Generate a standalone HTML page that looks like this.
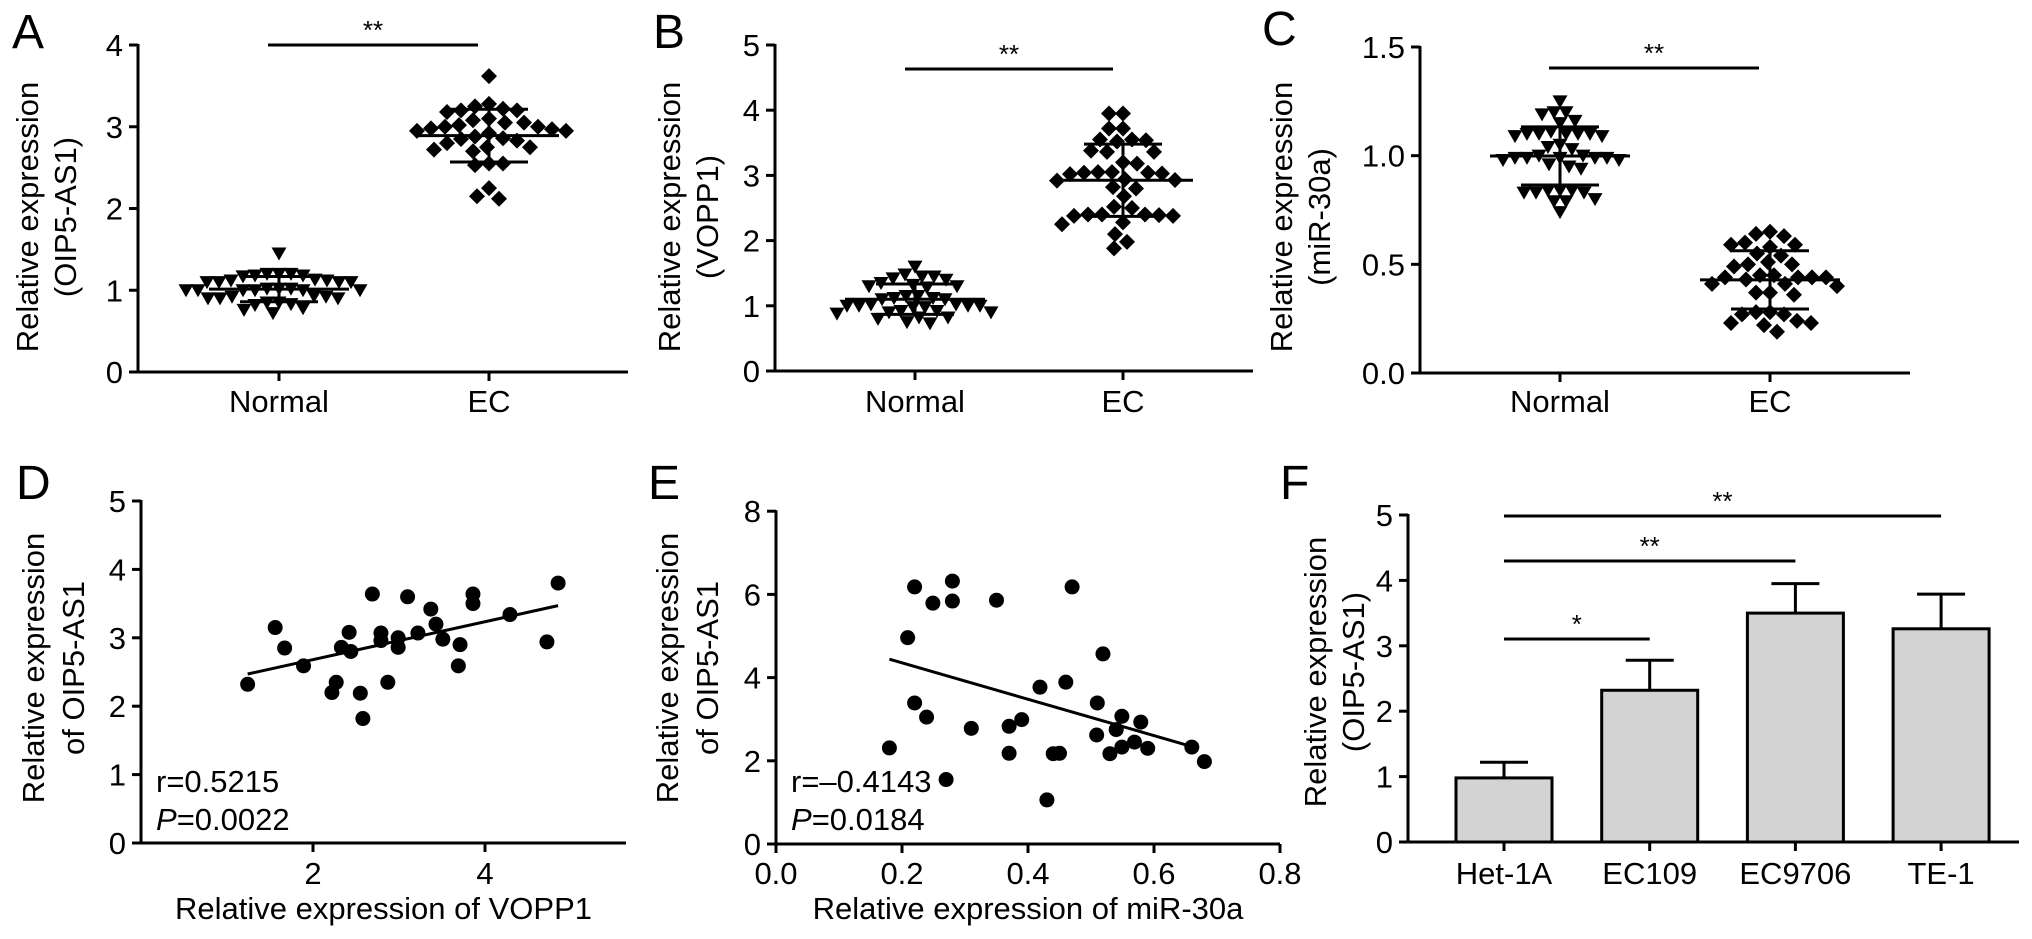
<!DOCTYPE html>
<html><head><meta charset="utf-8"><style>
html,body{margin:0;padding:0;background:#fff;}
svg{display:block;font-family:"Liberation Sans",Arial,sans-serif;}
</style></head><body>
<svg id="fig" width="2032" height="939" viewBox="0 0 2032 939" xmlns="http://www.w3.org/2000/svg"></svg>
<script>
// ---------- Panel A data ----------
const aCategories = ["Normal", "EC"];
const aNormal = [1.45,1.2,1.2,1.18,1.17,1.18,1.2,1.12,1.1,1.1,1.12,1.1,1.1,1.13,1.02,1.0,1.0,1.0,1.02,1.0,1.0,1.0,1.02,0.92,0.9,0.9,0.92,0.9,0.93,0.85,0.83,0.82,0.85,0.78,0.76,0.72];
const aEC = [3.62,3.28,3.22,3.2,3.2,3.18,3.25,3.08,3.05,3.1,3.05,3.0,2.98,3.02,2.97,2.95,3.0,2.92,2.95,2.88,2.85,2.86,2.83,2.8,2.75,2.72,2.7,2.75,2.55,2.53,2.55,2.25,2.12,2.15];
const aTicks = [0,1,2,3,4];
// ---------- Panel B data ----------
const bCategories = ["Normal", "EC"];
const bNormal = [1.6,1.45,1.42,1.45,1.4,1.48,1.35,1.3,1.3,1.28,1.32,1.15,1.12,1.1,1.12,1.1,1.15,1.0,1.02,1.0,0.98,1.0,1.02,0.98,1.0,0.92,0.9,0.88,0.9,0.92,0.82,0.8,0.82,0.75,0.73];
const bEC = [3.95,3.95,3.72,3.72,3.55,3.54,3.52,3.55,3.38,3.36,3.36,3.2,3.18,3.05,3.04,3.02,3.05,3.04,3.03,2.93,2.92,2.94,2.8,2.82,2.68,2.52,2.5,2.4,2.38,2.4,2.39,2.38,2.4,2.25,2.28,2.1,1.98,1.88];
const bTicks = [0,1,2,3,4,5];
// ---------- Panel C data ----------
const cCategories = ["Normal", "EC"];
const cNormal = [1.25,1.2,1.2,1.19,1.15,1.16,1.1,1.1,1.09,1.1,1.11,1.1,1.09,1.1,1.04,1.05,1.03,0.99,0.99,1.0,0.98,0.99,0.99,1.0,0.99,0.98,0.95,0.94,0.96,0.84,0.83,0.84,0.83,0.84,0.83,0.79,0.8,0.79,0.74];
const cEC = [0.65,0.64,0.63,0.6,0.59,0.58,0.59,0.55,0.54,0.51,0.5,0.5,0.49,0.45,0.44,0.44,0.43,0.44,0.45,0.44,0.41,0.4,0.41,0.37,0.36,0.37,0.28,0.28,0.27,0.27,0.24,0.23,0.22,0.23,0.19];
const cTicks = [0,0.5,1.0,1.5];
// ---------- Panel D data ----------
const dX = [1.24,1.56,1.67,1.89,2.22,2.27,2.33,2.42,2.44,2.55,2.58,2.69,2.79,2.79,2.87,2.99,2.99,3.1,3.22,3.37,3.43,3.51,3.71,3.69,3.86,3.86,4.29,4.72,4.85];
const dY = [2.32,3.15,2.85,2.59,2.2,2.35,2.86,3.08,2.8,2.19,1.82,3.64,3.07,2.96,2.35,3.0,2.86,3.6,3.07,3.42,3.2,2.98,2.9,2.59,3.64,3.5,3.34,2.94,3.8];
const dFit = [0.277, 2.127];
const dFitRange = [1.24, 4.85];
const dXTicks = [2,4];
const dYTicks = [0,1,2,3,4,5];
// ---------- Panel E data ----------
const eX = [0.18,0.209,0.22,0.22,0.239,0.249,0.27,0.28,0.28,0.31,0.35,0.37,0.37,0.39,0.419,0.43,0.44,0.45,0.46,0.47,0.51,0.509,0.519,0.53,0.54,0.549,0.549,0.569,0.579,0.59,0.66,0.68];
const eY = [2.31,4.96,6.18,3.39,3.05,5.79,1.55,6.32,5.84,2.78,5.86,2.83,2.18,2.99,3.77,1.06,2.17,2.18,3.89,6.18,3.39,2.62,4.57,2.17,2.75,3.07,2.33,2.45,2.93,2.3,2.33,1.98];
const eFit = [-4.375, 5.23];
const eFitRange = [0.18, 0.66];
const eXTicks = [0,0.2,0.4,0.6,0.8];
const eYTicks = [0,2,4,6,8];
// ---------- Panel F data ----------
const fCategories = ["Het-1A","EC109","EC9706","TE-1"];
const fMeans = [0.98,2.32,3.5,3.26];
const fSD = [0.24,0.46,0.45,0.53];
const fTicks = [0,1,2,3,4,5];

const NS = "http://www.w3.org/2000/svg";
const svg = document.getElementById("fig");
function mk(tag, attrs, parent){ const el=document.createElementNS(NS,tag); for(const k in attrs) el.setAttribute(k,attrs[k]); (parent||svg).appendChild(el); return el; }
function txt(s, attrs, parent){ const t=mk("text",attrs,parent); t.textContent=s; return t; }
function fmt(v,dec){ return dec? v.toFixed(dec) : String(v); }
const FS = 31;

function yAxis(g, x0, yTop, yBot, ticks, yS, dec, name){
  const ax = mk("line",{x1:x0,y1:yTop-1,x2:x0,y2:yBot+1.5,stroke:"#000","stroke-width":3},g);
  
  
  ticks.forEach(t=>{
    const y=yS(t);
    const tk = mk("line",{x1:x0-9,y1:y,x2:x0,y2:y,stroke:"#000","stroke-width":3},g);
    
    
    const lb = txt(fmt(t,dec),{x:x0-15,y:y+11,"text-anchor":"end","font-size":FS},g);
    
    
  });
}
function xAxisLine(g, x0, x1, y, name){
  const ax = mk("line",{x1:x0-1.5,y1:y,x2:x1,y2:y,stroke:"#000","stroke-width":3},g);
  
  
}
function xTick(g, x, y, label, name, ly){
  const tk = mk("line",{x1:x,y1:y,x2:x,y2:y+9,stroke:"#000","stroke-width":3},g);
  
  
  const lb = txt(label,{x:x,y:ly,"text-anchor":"middle","font-size":FS},g);
  
  
}
function yTitle(g, lines, xs, cy, name){
  lines.forEach((s,i)=>{
    const t = txt(s,{x:0,y:0,"text-anchor":"middle","font-size":FS,transform:`translate(${xs[i]},${cy}) rotate(-90)`},g);
    
    
  });
}
function panelLetter(s,x,y){
  const t = txt(s,{x:x,y:y,"font-size":48});
  
  
}
function sigBar(g, x1, x2, y, stars, name){
  const l = mk("line",{x1:x1,y1:y,x2:x2,y2:y,stroke:"#000","stroke-width":3},g);
  
  
  const t = txt(stars,{x:(x1+x2)/2,y:y-6,"text-anchor":"middle","font-size":26},g);
  
  
}
function swarm(vals, yS, d){
  const idx = vals.map((v,i)=>i).sort((a,b)=>vals[b]-vals[a]);
  const placed=[]; const out=new Array(vals.length);
  idx.forEach(i=>{
    const y=yS(vals[i]);
    let off=0;
    for(let s=0;s<400;s++){
      const o = (s%2===0?1:-1)*Math.ceil(s/2);
      const ok = placed.every(p=>{const dx=p[0]-o, dy=p[1]-y; return dx*dx+dy*dy>=d*d;});
      if(ok){off=o;break;}
    }
    placed.push([off,y]); out[i]=[off,y];
  });
  return out;
}
function meanSD(v){ const m=v.reduce((a,b)=>a+b,0)/v.length; const sd=Math.sqrt(v.reduce((a,b)=>a+(b-m)*(b-m),0)/(v.length-1)); return [m,sd]; }
function dotGroup(g, vals, cx, yS, shape, name){
  const pos = swarm(vals, yS, shape==="tri"?12:14);
  pos.forEach(p=>{
    const x=cx+p[0], y=p[1];
    let el;
    if(shape==="tri") el = mk("polygon",{points:`${x-7.5},${y-6} ${x+7.5},${y-6} ${x},${y+7}`,fill:"#000"},g);
    else el = mk("polygon",{points:`${x},${y-8} ${x+8},${y} ${x},${y+8} ${x-8},${y}`,fill:"#000"},g);
    
    
  });
  const [m,sd]=meanSD(vals);
  const ym=yS(m), yt=yS(m+sd), yb=yS(m-sd);
  const ml = mk("line",{x1:cx-70,y1:ym,x2:cx+70,y2:ym,stroke:"#000","stroke-width":3},g);
  
  
  const vl = mk("line",{x1:cx,y1:yt,x2:cx,y2:yb,stroke:"#000","stroke-width":3},g);
  
  
  [yt,yb].forEach(yy=>{
    const c = mk("line",{x1:cx-39,y1:yy,x2:cx+39,y2:yy,stroke:"#000","stroke-width":3},g);
    
    
  });
}
function dotPanel(cfg){
  const g = mk("g",{});
  
  
  const yS = v=> cfg.y0 - (v-cfg.ticks[0])/(cfg.ticks[cfg.ticks.length-1]-cfg.ticks[0])*(cfg.y0-cfg.yTop);
  yAxis(g, cfg.ax, cfg.yTop, cfg.y0, cfg.ticks, yS, cfg.dec, cfg.id);
  xAxisLine(g, cfg.ax, cfg.axEnd, cfg.y0, cfg.id);
  cfg.cats.forEach((c,i)=>xTick(g, cfg.cx[i], cfg.y0, c, cfg.id, 412));
  dotGroup(g, cfg.g1, cfg.cx[0], yS, "tri", cfg.id+'-normal');
  dotGroup(g, cfg.g2, cfg.cx[1], yS, "dia", cfg.id+'-ec');
  sigBar(g, cfg.sig[0], cfg.sig[1], cfg.sig[2], "**", cfg.id);
  yTitle(g, cfg.title, cfg.tx, 217, cfg.id);
}
dotPanel({id:"a",ax:138,axEnd:628,y0:372,yTop:45,ticks:aTicks,dec:0,cats:aCategories,cx:[279,489],g1:aNormal,g2:aEC,sig:[268,478,45],title:["Relative expression","(OIP5-AS1)"],tx:[38,76]});
dotPanel({id:"b",ax:775,axEnd:1253,y0:371,yTop:45,ticks:bTicks,dec:0,cats:bCategories,cx:[915,1123],g1:bNormal,g2:bEC,sig:[905,1113,69],title:["Relative expression","(VOPP1)"],tx:[680,718]});
dotPanel({id:"c",ax:1420,axEnd:1910,y0:373,yTop:47,ticks:cTicks,dec:1,cats:cCategories,cx:[1560,1770],g1:cNormal,g2:cEC,sig:[1549,1759,68],title:["Relative expression","(miR-30a)"],tx:[1292,1330]});
panelLetter("A",12,48); panelLetter("B",653,48); panelLetter("C",1262,45);

function scatterPanel(cfg){
  const g = mk("g",{});
  
  
  const xS = v=> cfg.ax + (v-cfg.xMin)*cfg.xUnit;
  const yS = v=> cfg.y0 - v*cfg.yUnit;
  yAxis(g, cfg.ax, yS(cfg.yTicks[cfg.yTicks.length-1]), cfg.y0, cfg.yTicks, yS, 0, cfg.id);
  xAxisLine(g, cfg.ax, cfg.axEnd, cfg.y0, cfg.id);
  cfg.xTicks.forEach(t=>xTick(g, xS(t), cfg.y0, fmt(t,cfg.xdec), cfg.id, 884));
  cfg.xs.forEach((xv,i)=>{
    const c = mk("circle",{cx:xS(xv),cy:yS(cfg.ys[i]),r:7.5,fill:"#000"},g);
    
    
  });
  const [s,b]=cfg.fit;
  const fl = mk("line",{x1:xS(cfg.fitR[0]),y1:yS(s*cfg.fitR[0]+b),x2:xS(cfg.fitR[1]),y2:yS(s*cfg.fitR[1]+b),stroke:"#000","stroke-width":3},g);
  
  
  const r = txt(cfg.r,{x:cfg.ax+15,y:792,"font-size":FS},g);
  
  
  const p = mk("text",{x:cfg.ax+15,y:830,"font-size":FS},g);
  
  
  const pi = mk("tspan",{"font-style":"italic"},p); pi.textContent="P";
  const pr = mk("tspan",{},p); pr.textContent="="+cfg.p;
  const xt = txt(cfg.xTitle,{x:(cfg.ax+cfg.axEnd)/2,y:919,"text-anchor":"middle","font-size":FS},g);
  
  
  yTitle(g, ["Relative expression","of OIP5-AS1"], cfg.tx, 668, cfg.id);
}
scatterPanel({id:"d",ax:141,axEnd:626,y0:843,yUnit:68.4,xMin:0,xUnit:86,xTicks:dXTicks,yTicks:dYTicks,xdec:0,xs:dX,ys:dY,fit:dFit,fitR:dFitRange,r:"r=0.5215",p:"0.0022",xTitle:"Relative expression of VOPP1",tx:[44,84]});
scatterPanel({id:"e",ax:776,axEnd:1280,y0:844,yUnit:41.6,xMin:0,xUnit:630,xTicks:eXTicks,yTicks:eYTicks,xdec:1,xs:eX,ys:eY,fit:eFit,fitR:eFitRange,r:"r=\u20130.4143",p:"0.0184",xTitle:"Relative expression of miR-30a",tx:[678,718]});
panelLetter("D",16,499); panelLetter("E",648,499);

// ---------- Panel F ----------
(function(){
  const g = mk("g",{});
  
  
  const ax=1408, y0=842, unit=65.4, xStart=1504, step=145.7, bw=96;
  const yS=v=>y0-v*unit, xC=i=>xStart+i*step;
  fCategories.forEach((c,i)=>{
    const x=xC(i);
    const bar = mk("rect",{x:x-bw/2,y:yS(fMeans[i]),width:bw,height:y0-yS(fMeans[i]),fill:"#d3d3d3",stroke:"#000","stroke-width":3},g);
    
    
    const ev = mk("line",{x1:x,y1:yS(fMeans[i]),x2:x,y2:yS(fMeans[i]+fSD[i]),stroke:"#000","stroke-width":3},g);
    
    
    const ec = mk("line",{x1:x-24,y1:yS(fMeans[i]+fSD[i]),x2:x+24,y2:yS(fMeans[i]+fSD[i]),stroke:"#000","stroke-width":3},g);
    
    
  });
  yAxis(g, ax, yS(5), y0, fTicks, yS, 0, "f");
  xAxisLine(g, ax, 2019, y0, "f");
  fCategories.forEach((c,i)=>xTick(g, xC(i), y0, c, "f", 884));
  sigBar(g, 1504, xC(1), 639, "*", "f-ec109");
  sigBar(g, 1504, xC(2), 561, "**", "f-ec9706");
  sigBar(g, 1504, xC(3), 516, "**", "f-te1");
  yTitle(g, ["Relative expression","(OIP5-AS1)"], [1326,1364], 672, "f");
})();
panelLetter("F",1280,499);
</script>
</body></html>
